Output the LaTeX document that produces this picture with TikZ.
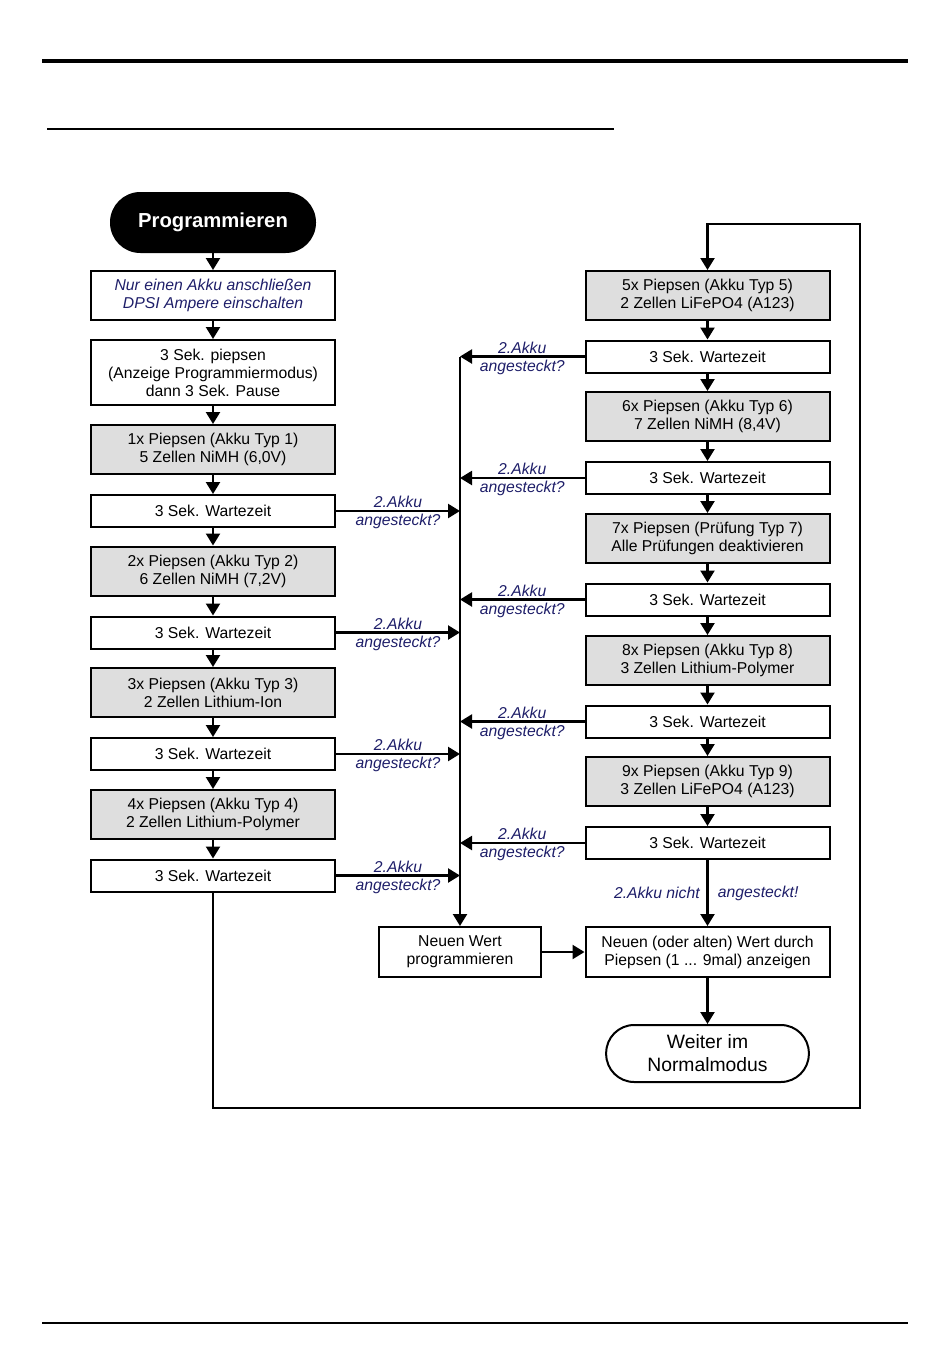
\documentclass[tikz,border=0pt]{standalone}
\usepackage{fontspec}
\setmainfont{Liberation Sans}
\usepackage{xcolor}
\usetikzlibrary{arrows.meta}
\definecolor{kastengrau}{RGB}{222,222,222}
\definecolor{akkublau}{RGB}{30,30,105}

\begin{document}
\begin{tikzpicture}[x=0.75pt,y=-0.75pt,
	kasten/.style={draw=black, line width=1.5pt, minimum width=183pt, align=center, inner sep=1pt, font=\fontsize{11.8}{13.5}\selectfont},
	warte/.style={kasten, minimum height=24pt},
	piep/.style={kasten, fill=kastengrau, minimum height=36.75pt},
	pille/.style={draw=black, line width=1.5pt, align=center, font=\fontsize{14.5}{17.25}\selectfont},
	pfeil/.style={line width=1.7pt, -{Triangle[length=9pt,width=10.5pt]}},
	frage/.style={text=akkublau, inner sep=1.5pt, font=\fontsize{11.8}{13.5}\selectfont\itshape}]
				\useasboundingbox (0,0) rectangle (950,1370);
				\draw[black, line width=2.4pt] (42,61) -- (908,61);
				\draw[black, line width=2.2pt] (47,129) -- (614,129);
				\draw[black, line width=2.2pt] (42,1323) -- (908,1323);
				\node[pille, fill=black, text=white, font=\fontsize{15.2}{17}\selectfont\bfseries, minimum width=153pt, minimum height=44.25pt, rounded corners=22pt] (start) at (213,222.5) {Programmieren};
				\node[kasten, frage, inner sep=1pt, minimum height=36.75pt] (hinweis) at (213,295.5) {Nur einen Akku anschließen\\DPSI Ampere einschalten};
				\node[kasten, minimum height=48.75pt] (modus) at (213,372.5) {3 Sek. piepsen\\(Anzeige Programmiermodus)\\dann 3 Sek. Pause};
				\node[piep] (typ1) at (213,449.5) {1x Piepsen (Akku Typ 1)\\5 Zellen NiMH (6,0V)};
				\node[warte] (w1) at (213,511) {3 Sek. Wartezeit};
				\node[piep] (typ2) at (213,571) {2x Piepsen (Akku Typ 2)\\6 Zellen NiMH (7,2V)};
				\node[warte] (w2) at (213,632.5) {3 Sek. Wartezeit};
				\node[piep] (typ3) at (213,692.5) {3x Piepsen (Akku Typ 3)\\2 Zellen Lithium-Ion};
				\node[warte] (w3) at (213,754) {3 Sek. Wartezeit};
				\node[piep] (typ4) at (213,814.5) {4x Piepsen (Akku Typ 4)\\2 Zellen Lithium-Polymer};
				\node[warte] (w4) at (213,875.5) {3 Sek. Wartezeit};
				\node[piep] (typ5) at (707.5,295.5) {5x Piepsen (Akku Typ 5)\\2 Zellen LiFePO4 (A123)};
				\node[warte] (w5) at (707.5,356.5) {3 Sek. Wartezeit};
				\node[piep] (typ6) at (707.5,416.5) {6x Piepsen (Akku Typ 6)\\7 Zellen NiMH (8,4V)};
				\node[warte] (w6) at (707.5,478) {3 Sek. Wartezeit};
				\node[piep] (typ7) at (707.5,538.5) {7x Piepsen (Prüfung Typ 7)\\Alle Prüfungen deaktivieren};
				\node[warte] (w7) at (707.5,599.5) {3 Sek. Wartezeit};
				\node[piep] (typ8) at (707.5,660.5) {8x Piepsen (Akku Typ 8)\\3 Zellen Lithium-Polymer};
				\node[warte] (w8) at (707.5,721.5) {3 Sek. Wartezeit};
				\node[piep] (typ9) at (707.5,781.5) {9x Piepsen (Akku Typ 9)\\3 Zellen LiFePO4 (A123)};
				\node[warte] (w9) at (707.5,843) {3 Sek. Wartezeit};
				\node[kasten, minimum width=121.5pt, minimum height=37.5pt] (neu) at (460,952) {Neuen Wert\\programmieren};
				\node[kasten, minimum height=37.5pt] (anzeige) at (707.5,952) {Neuen (oder alten) Wert durch\\Piepsen (1 ... 9mal) anzeigen};
				\node[pille, minimum width=152pt, minimum height=42.75pt, rounded corners=21pt] (weiter) at (707.5,1053.5) {Weiter im\\Normalmodus};
				\coordinate (bus) at (460,356.5);
				\coordinate (unten) at (860,1108);
				\coordinate (oben) at (860,224);
				\foreach \a/\b in {start/hinweis, hinweis/modus, modus/typ1, typ1/w1, w1/typ2, typ2/w2, w2/typ3, typ3/w3, w3/typ4, typ4/w4, typ5/w5, w5/typ6, typ6/w6, w6/typ7, typ7/w7, w7/typ8, typ8/w8, w8/typ9, typ9/w9, anzeige/weiter}
					\draw[pfeil] (\a) -- (\b);
				\foreach \w in {w1,w2,w3,w4}
					\draw[pfeil] (\w.east) -- (\w.east -| bus) node[frage, midway, above] {2.Akku} node[frage, midway, below] {angesteckt?};
				\foreach \w in {w5,w6,w7,w8,w9}
					\draw[pfeil] (\w.west) -- (\w.west -| bus) node[frage, midway, above] {2.Akku} node[frage, midway, below] {angesteckt?};
				\draw[pfeil] (bus) -- (neu);
				\draw[pfeil] (neu) -- (anzeige);
				\draw[pfeil] (w9) -- (anzeige) node[frage, midway, left, inner sep=5pt] {2.Akku nicht} node[frage, midway, right, inner sep=7pt] {angesteckt!};
				\draw[pfeil] (w4) |- (unten) -- (oben) -| (typ5);
			\end{tikzpicture}
\end{document}
